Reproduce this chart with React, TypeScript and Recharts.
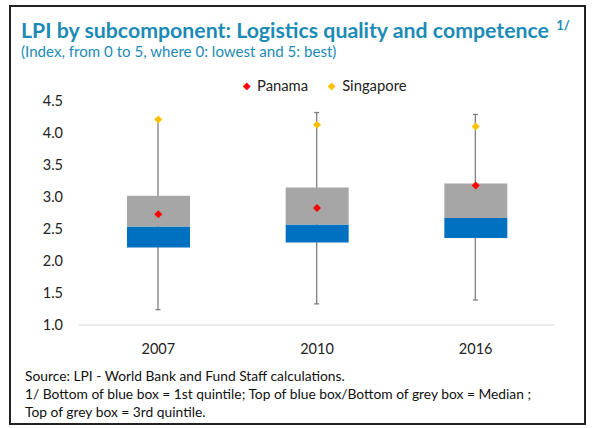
import { ComposedChart, Bar, Scatter, XAxis, YAxis } from "recharts";

const years = ["2007", "2010", "2016"];
const whiskerLow = [1.24, 1.33, 1.39];
const whiskerHigh = [4.22, 4.32, 4.29];
const quintile1 = [2.21, 2.29, 2.36];
const median = [2.54, 2.57, 2.67];
const quintile3 = [3.02, 3.15, 3.21];
const panama = [2.73, 2.83, 3.18];
const singapore = [4.21, 4.13, 4.1];
const yTicks = [1, 1.5, 2, 2.5, 3, 3.5, 4, 4.5];

const data = years.map((year, i) => ({
  year,
  whisker: [whiskerLow[i], whiskerHigh[i]],
  base: quintile1[i],
  blue: median[i] - quintile1[i],
  grey: quintile3[i] - median[i],
  panama: panama[i],
  singapore: singapore[i],
}));

const FONT = "Lato, 'Open Sans', sans-serif";
const TITLE = "#1b8bb6";

const Whisker = (props: any) => {
  const { x, y, width, height } = props;
  const cx = x + width / 2;
  return (
    <g stroke="#7f7f7f" strokeWidth={1.3}>
      <line x1={cx} x2={cx} y1={y} y2={y + height} />
      <line x1={cx - 2.5} x2={cx + 2.5} y1={y} y2={y} />
      <line x1={cx - 2.5} x2={cx + 2.5} y1={y + height} y2={y + height} />
    </g>
  );
};

const diamond = (color: string) => (props: any) => {
  const { cx, cy } = props;
  const r = 4;
  return (
    <polygon
      points={`${cx},${cy - r} ${cx + r},${cy} ${cx},${cy + r} ${cx - r},${cy}`}
      fill={color}
    />
  );
};

export default function App() {
  return (
    <div
      style={{
        position: "absolute",
        left: 0,
        top: 0,
        width: 605,
        height: 428,
        background: "#fff",
        fontFamily: FONT,
      }}
    >
      <div
        style={{
          position: "absolute",
          left: 9,
          top: 5,
          width: 577,
          height: 420,
          boxSizing: "border-box",
          border: "2px solid #222",
        }}
      />
      <div
        style={{
          position: "absolute",
          left: 21,
          top: 17,
          fontSize: 21.3,
          fontWeight: 700,
          color: TITLE,
          whiteSpace: "nowrap",
        }}
      >
        LPI by subcomponent: Logistics quality and competence{" "}
        <sup style={{ fontSize: 13, marginLeft: 2 }}>1/</sup>
      </div>
      <div
        style={{
          position: "absolute",
          left: 21,
          top: 42,
          fontSize: 15.1,
          color: TITLE,
          whiteSpace: "nowrap",
        }}
      >
        (Index, from 0 to 5, where 0: lowest and 5: best)
      </div>

      <div
        style={{
          position: "absolute",
          left: 243,
          top: 76,
          fontSize: 14.8,
          color: "#222",
          display: "flex",
          alignItems: "center",
          whiteSpace: "nowrap",
        }}
      >
        <span style={{ color: "#ff0000", fontSize: 10, marginRight: 6 }}>◆</span>
        Panama
        <span style={{ color: "#ffc000", fontSize: 10, marginLeft: 20, marginRight: 6 }}>◆</span>
        Singapore
      </div>

      <div style={{ position: "absolute", left: 0, top: 0 }}>
        <ComposedChart
          width={605}
          height={428}
          data={data}
          margin={{ top: 101, right: 50, bottom: 73, left: 0 }}
        >
          <XAxis
            dataKey="year"
            xAxisId="main"
            height={30}
            axisLine={{ stroke: "#d9d9d9" }}
            tickLine={false}
            tickSize={0}
            tickMargin={19}
            tick={{ fill: "#222", fontSize: 14.5, fontFamily: FONT }}
          />
          <XAxis dataKey="year" xAxisId="w" hide />
          <YAxis
            width={79}
            domain={[1, 4.5]}
            allowDataOverflow
            ticks={yTicks}
            tickFormatter={(v: number) => v.toFixed(1)}
            axisLine={false}
            tickLine={false}
            tickSize={6}
            tickMargin={10}
            tick={{ fill: "#222", fontSize: 14.5, fontFamily: FONT }}
          />
          <Bar
            xAxisId="w"
            dataKey="whisker"
            barSize={10}
            shape={Whisker}
            isAnimationActive={false}
          />
          <Bar
            xAxisId="main"
            dataKey="base"
            stackId="box"
            fill="transparent"
            barSize={63}
            isAnimationActive={false}
          />
          <Bar
            xAxisId="main"
            dataKey="blue"
            stackId="box"
            fill="#0070c0"
            barSize={63}
            isAnimationActive={false}
          />
          <Bar
            xAxisId="main"
            dataKey="grey"
            stackId="box"
            fill="#a6a6a6"
            barSize={63}
            isAnimationActive={false}
          />
          <Scatter
            xAxisId="main"
            dataKey="panama"
            name="Panama"
            shape={diamond("#ff0000")}
            isAnimationActive={false}
          />
          <Scatter
            xAxisId="main"
            dataKey="singapore"
            name="Singapore"
            shape={diamond("#ffc000")}
            isAnimationActive={false}
          />
        </ComposedChart>
      </div>

      <div
        style={{
          position: "absolute",
          left: 25,
          top: 367,
          fontSize: 13.8,
          lineHeight: "18px",
          color: "#111",
          whiteSpace: "nowrap",
        }}
      >
        <div>Source: LPI - World Bank and Fund Staff calculations.</div>
        <div>
          1/ Bottom of blue box = 1st quintile; Top of blue box/Bottom of grey box = Median ;
        </div>
        <div>Top of grey box = 3rd quintile.</div>
      </div>
    </div>
  );
}
